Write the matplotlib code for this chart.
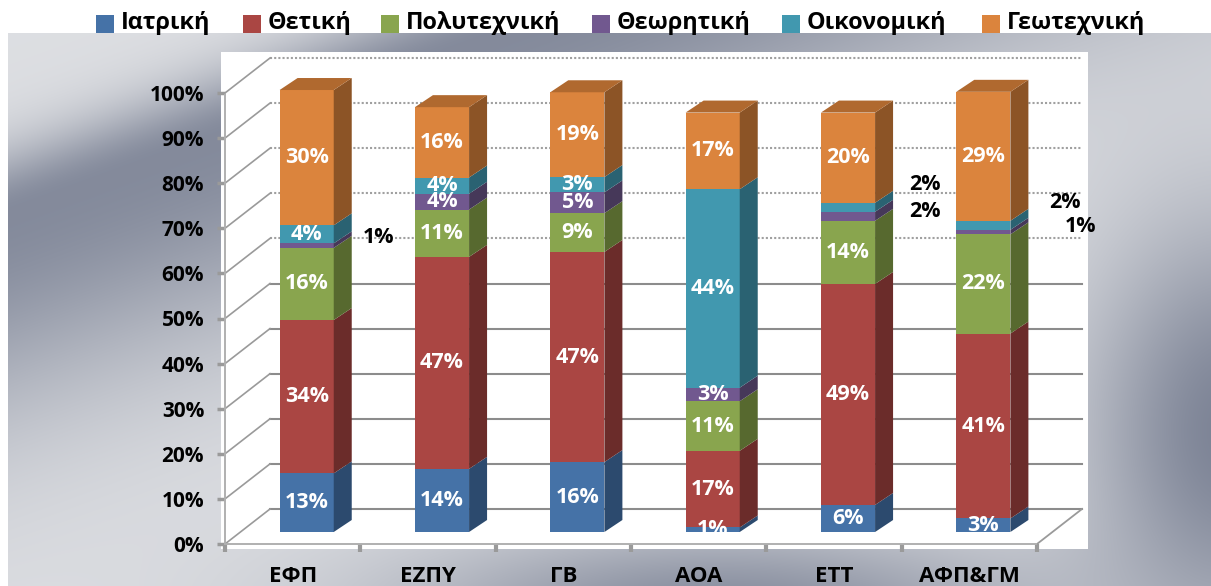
import numpy as np
import matplotlib
matplotlib.use("Agg")
import matplotlib.pyplot as plt
from matplotlib.patches import Rectangle, Polygon

plt.rcParams['font.family'] = ['Open Sans', 'DejaVu Sans']

# ---------------- data ----------------
categories = ["ΕΦΠ", "ΕΖΠΥ", "ΓΒ", "ΑΟΑ", "ΕΤΤ", "ΑΦΠ&ΓΜ"]
series_names = ["Ιατρική", "Θετική", "Πολυτεχνική", "Θεωρητική", "Οικονομική", "Γεωτεχνική"]
iatriki      = [13.0, 14.0, 15.5,  1.0,  6.0,  3.0]
thetiki      = [34.0, 47.0, 46.6, 17.0, 49.0, 41.0]
polytexniki  = [16.0, 10.5,  8.6, 11.0, 14.0, 22.0]
theoritiki   = [ 1.0,  3.5,  4.6,  3.0,  2.0,  1.0]
oikonomiki   = [ 4.0,  3.6,  3.4, 44.0,  2.0,  2.0]
geotexniki   = [30.0, 15.6, 18.8, 17.0, 20.0, 28.6]
series_values = [iatriki, thetiki, polytexniki, theoritiki, oikonomiki, geotexniki]
yticks = list(range(0, 101, 10))

# ---------------- style ----------------
front_cols = ["#4572a7", "#aa4643", "#89a54e", "#71588f", "#4198af", "#db843d"]
side_cols  = ["#2c4a6e", "#6b2c2a", "#57692f", "#463859", "#2a6272", "#8c5426"]
top_col    = "#b0692f"
legend_x   = [96, 243, 381, 592, 782, 982]   # square left edges (px)
# outside label placement for tiny segments: (cat, series) -> (dx cat units, dy %)
outside = {(0, 3): (0.53, 1.9), (4, 4): (0.57, 5.0), (4, 3): (0.57, 1.0),
           (5, 4): (0.60, 5.1), (5, 3): (0.72, 1.3)}

W, H = 1211, 586
fig = plt.figure(figsize=(W / 100, H / 100), dpi=100)

# ---------------- background ----------------
bg = fig.add_axes([0, 0, 1, 1], zorder=0)
bg.set_xlim(0, W); bg.set_ylim(H, 0); bg.axis('off')
yy, xx = np.mgrid[0:H, 0:W].astype(float)
p0 = np.array([0.0, 215.0]); p1 = np.array([520.0, 25.0])
d = p1 - p0; n = np.array([-d[1], d[0]]) / np.hypot(*d)
n = -n if n[1] < 0 else n
dist = (xx - p0[0]) * n[0] + (yy - p0[1]) * n[1]
sig = np.where(dist > 0, 190.0, 60.0)
D1 = 0.88 * np.exp(-(dist / sig) ** 2)
D2 = 0.95 * np.exp(-(((xx - 1230) / 150.0) ** 2 + ((yy - 430) / 220.0) ** 2))
D3 = 0.85 * np.exp(-(((xx - 720) / 330.0) ** 2 + ((yy - 610) / 85.0) ** 2))
D4 = 0.10
D = 1 - (1 - D1) * (1 - D2) * (1 - D3) * (1 - D4)
D = np.clip(D, 0, 1)[..., None]
light = np.array([0xe8, 0xe9, 0xeb]) / 255.0
dark = np.array([0x78, 0x7f, 0x92]) / 255.0
img = light * (1 - D) + dark * D
img[:33, :, :] = 1.0
img[:, :8, :] = 1.0
bg.imshow(img, extent=[0, W, H, 0], aspect='auto', interpolation='bilinear')
bg.add_patch(Rectangle((221, 52), 867, 497, facecolor='white', edgecolor='none'))

# legend
for k, name in enumerate(series_names):
    x0 = legend_x[k]
    bg.add_patch(Rectangle((x0, 15), 18, 18, facecolor=front_cols[k], edgecolor='none'))
    bg.text(x0 + 25, 23, name, fontsize=16.8, fontweight='bold', va='center', ha='left', color='black')

# ---------------- main axes (front plane) ----------------
ax = fig.add_axes([225 / W, (H - 544) / H, 812 / W, 451 / H], zorder=2)
ax.set_facecolor('none')
ax.set_xlim(-0.5, len(categories) - 0.5)
ax.set_ylim(0, 100)
ppx = 812 / len(categories)
ppy = 451 / 100.0
bx, by = 14 / ppx, 12 / ppy        # bar depth position
sx, sy = 18 / ppx, 12 / ppy        # bar depth size
wx, wy = 45 / ppx, 35 / ppy        # back wall offset
xl, xr = -0.5, len(categories) - 0.5

for v in yticks:
    if v >= 60:
        kw = dict(color='#a0a0a0', lw=1.5, ls=(0, (1, 1)))
    else:
        kw = dict(color='#8c8c8c', lw=1.5, ls='-')
    ax.plot([xl + wx, xr + wx], [v + wy, v + wy], clip_on=False, zorder=1, **kw)
    ax.plot([xl, xl + wx], [v, v + wy], clip_on=False, zorder=1, color='#9a9a9a', lw=1.2)
ax.plot([xr, xr + wx], [0, wy], color='#9a9a9a', lw=1.3, clip_on=False, zorder=1)

for s in ['top', 'right']:
    ax.spines[s].set_visible(False)
for s in ['left', 'bottom']:
    ax.spines[s].set_color('#b0b0b0')
    ax.spines[s].set_linestyle((0, (1, 1)))
    ax.spines[s].set_linewidth(1.4)


def pct(v):
    return f"{int(np.floor(v + 0.5))}%"


idx = np.arange(len(categories))
bottom = np.zeros(len(categories))
bw = 0.4
for k, vals in enumerate(series_values):
    vals = np.array(vals, dtype=float)
    ax.bar(idx + bx, vals, width=bw, bottom=bottom + by, color=front_cols[k],
           edgecolor='none', zorder=3, clip_on=False)
    for i in idx:
        x1 = i + bx + bw / 2
        b = bottom[i] + by; t = b + vals[i]
        ax.add_patch(Polygon([(x1, b), (x1, t), (x1 + sx, t + sy), (x1 + sx, b + sy)],
                             closed=True, facecolor=side_cols[k], edgecolor='none',
                             zorder=3, clip_on=False))
        mid = bottom[i] + vals[i] / 2 + by
        lbl = pct(vals[i])
        if (i, k) in outside:
            ddx, ddy = outside[(i, k)]
            ax.text(i + bx + ddx, mid + ddy, lbl, ha='center', va='center', fontsize=15.5,
                    fontweight='bold', color='black', zorder=6, clip_on=False)
        else:
            ax.text(i + bx, mid, lbl, ha='center', va='center', fontsize=15.5,
                    fontweight='bold', color='white', zorder=6, clip_on=False)
    bottom = bottom + vals

for i in idx:
    x0 = i + bx - bw / 2; x1 = i + bx + bw / 2
    T = bottom[i] + by
    ax.add_patch(Polygon([(x0, T), (x1, T), (x1 + sx, T + sy), (x0 + sx, T + sy)],
                         closed=True, facecolor=top_col, edgecolor='none', zorder=3,
                         clip_on=False))

ax.set_yticks(yticks)
ax.set_yticklabels([f"{v}%" for v in yticks], fontsize=15, fontweight='bold')
ax.tick_params(axis='y', length=6, width=2.5, color='#9a9a9a', pad=9)
ax.set_xticks(idx)
ax.set_xticklabels(categories, fontsize=16, fontweight='bold')
ax.set_xticks(np.arange(len(categories) + 1) - 0.5, minor=True)
ax.tick_params(axis='x', which='major', length=0, pad=16)
ax.tick_params(axis='x', which='minor', length=6, width=3, color='#9a9a9a')

fig.savefig("out.png", dpi=100)
